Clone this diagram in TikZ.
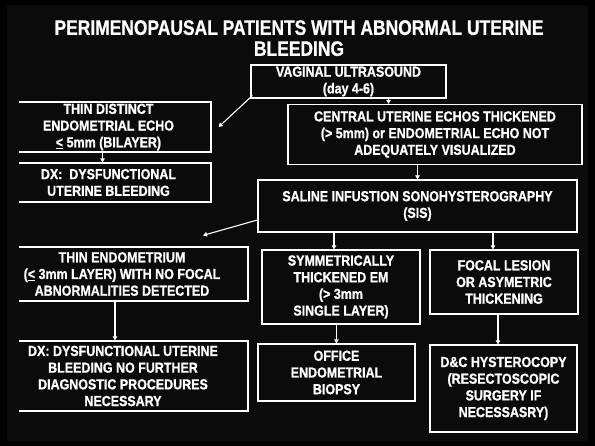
\documentclass[tikz,border=0pt]{standalone}
\usepackage{fontspec}
\setmainfont{Liberation Sans}
\newfontfamily\titlefont{Liberation Sans}[FakeStretch=0.83, BoldFeatures={FakeBold=0.8}]
\newfontfamily\boxfont{Liberation Sans}[FakeStretch=0.86, BoldFeatures={FakeBold=1}]
\usetikzlibrary{arrows.meta,calc}
\definecolor{slidebg}{HTML}{0B0B0B}
\tikzset{
  box/.style={
    draw=white,
    line width=1.2pt,
    inner sep=0pt,
    text=white,
    align=center,
    font=\boxfont\fontsize{14.5}{16.7}\selectfont\bfseries
  },
  ttl/.style={text=white, inner sep=0pt, align=center, anchor=north,
    font=\titlefont\fontsize{21}{21}\selectfont\bfseries},
  arr/.style={draw=white, line width=1.1pt, -{Triangle[width=4.5pt,length=4pt]}},
}
\newcommand{\ulless}{\underline{<}}

\begin{document}
\begin{tikzpicture}[x=1pt, y=-1pt]
  \useasboundingbox (0,0) rectangle (595,446);
  \fill[black] (0,0) rectangle (595,446);
  \fill[slidebg] (7,5) rectangle (588,441);
  \node[ttl] (title) at (299,20) {PERIMENOPAUSAL PATIENTS WITH ABNORMAL UTERINE\\BLEEDING};
  % first level
  \node[box, minimum width=195pt, minimum height=33pt] (vus) at (348.5,81.5) {VAGINAL ULTRASOUND\\(day 4-6)};
  \node[box, minimum width=294pt, minimum height=60pt] (cue) at (435,134.5) {CENTRAL UTERINE ECHOS THICKENED\\(> 5mm) or ENDOMETRIAL ECHO NOT\\ADEQUATELY VISUALIZED};
  \node[box, minimum width=319pt, minimum height=52pt] (sis) at (417.5,206) {SALINE INFUSTION SONOHYSTEROGRAPHY\\(SIS)};
  % left column, cut off by the slide edge
  \begin{scope}
    \clip (19,0) rectangle (300,446);
    \node[box, minimum width=205pt, minimum height=50pt] (dtn) at (108.5,127) {THIN DISTINCT\\ENDOMETRIAL ECHO\\\ulless{} 5mm (BILAYER)};
    \node[box, minimum width=205pt, minimum height=39pt] (dx1) at (108.5,182.5) {DX:\ \ DYSFUNCTIONAL\\UTERINE BLEEDING};
    \node[box, minimum width=252pt, minimum height=54pt] (ten) at (122,274) {THIN ENDOMETRIUM\\(\ulless{} 3mm LAYER) WITH NO FOCAL\\ABNORMALITIES DETECTED};
    \node[box, minimum width=250pt, minimum height=70pt] (dx2) at (123,376) {DX: DYSFUNCTIONAL UTERINE\\BLEEDING NO FURTHER\\DIAGNOSTIC PROCEDURES\\NECESSARY};
  \end{scope}
  % SIS outcomes
  \node[box, minimum width=158pt, minimum height=74pt] (sym) at (341,287) {SYMMETRICALLY\\THICKENED EM\\(> 3mm\\SINGLE LAYER)};
  \node[box, minimum width=148pt, minimum height=64pt] (foc) at (504,282) {FOCAL LESION\\OR ASYMETRIC\\THICKENING};
  \node[box, minimum width=157pt, minimum height=57pt] (off) at (336.5,372.5) {OFFICE\\ENDOMETRIAL\\BIOPSY};
  \node[box, minimum width=147pt, minimum height=87pt] (dc) at (503.5,388.5) {D\&C HYSTEROCOPY\\(RESECTOSCOPIC\\SURGERY IF\\NECESSASRY)};
  % connectors
  \draw[arr] ([shift={(2pt,3pt)}]vus.south west) -- ([xshift=7pt]dtn.east);
  \draw[arr] ([xshift=40pt]vus.south) -- ([xshift=40pt]vus.south |- cue.north);
  \draw[arr] ([xshift=-6pt]dtn.south) -- ([xshift=-6pt]dtn.south |- dx1.north);
  \draw[arr] (sis.north |- cue.south) -- (sis.north);
  \draw[arr] ([yshift=-14pt]sis.west) -- ([shift={(81pt,11pt)}]ten.north);
  \draw[arr] ([xshift=-7pt]sym.north |- sis.south) -- ([xshift=-7pt]sym.north);
  \draw[arr] ([xshift=-11pt]foc.north |- sis.south) -- ([xshift=-11pt]foc.north);
  \draw[arr] ([xshift=-7pt]ten.south) -- ([xshift=-7pt]ten.south |- dx2.north);
  \draw[arr] (off.north |- sym.south) -- (off.north);
  \draw[arr] ([xshift=-6pt]foc.south) -- ([xshift=-6pt]foc.south |- dc.north);
\end{tikzpicture}
\end{document}
